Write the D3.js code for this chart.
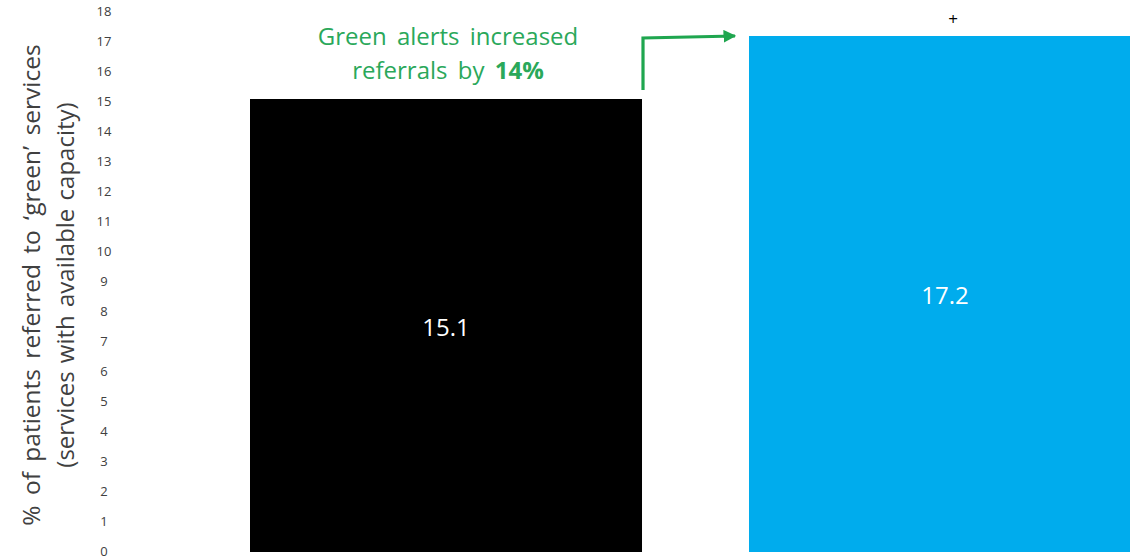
<!DOCTYPE html>
<html><head><meta charset="utf-8">
<script src="https://cdn.jsdelivr.net/npm/d3@7"></script>
<style>
html,body{margin:0;padding:0;background:#fff;overflow:hidden}
text{font-family:"Open Sans",Lato,sans-serif}
</style></head>
<body><svg id="c" width="1130" height="559"></svg>
<script>
const categories = ["Before green alerts", "With green alerts"];
const values = [15.1, 17.2];
const barColors = ["#000000", "#00aced"];
const yTicks = [0,1,2,3,4,5,6,7,8,9,10,11,12,13,14,15,16,17,18];
const yTitle = ["% of patients referred to \u2018green\u2019 services", "(services with available capacity)"];
const noteLine1 = "Green alerts increased";
const noteLine2a = "referrals by ";
const noteLine2b = "14%";
const sigMark = "+";

const svg = d3.select("#c");
const y = d3.scaleLinear().domain([0, 18]).range([552, 12]);
const x = d3.scaleBand().domain(categories).range([250, 1141]).paddingInner(0.2144).paddingOuter(0);

// y axis tick labels (no line)
const ax = svg.append("g").attr("transform", "translate(112,0)")
  .call(d3.axisLeft(y).tickValues(yTicks).tickSize(0).tickPadding(0).tickFormat(d3.format("d")));
ax.select(".domain").remove();
ax.selectAll("text").attr("font-family", "'Open Sans', sans-serif").attr("font-size", 13)
  .attr("fill", "#404040").attr("text-anchor", "middle").attr("dx", -8).attr("dy", "0.3em");

// y title
const tg = svg.append("g").attr("transform", "translate(0,285) rotate(-90)");
tg.append("text").attr("x", 0).attr("y", 40).attr("text-anchor", "middle")
  .attr("font-size", 24.5).attr("word-spacing", 4).attr("fill", "#404040").text(yTitle[0]);
tg.append("text").attr("x", 0).attr("y", 74).attr("text-anchor", "middle")
  .attr("font-size", 24).attr("word-spacing", 2).attr("fill", "#404040").text(yTitle[1]);

// bars
svg.selectAll("rect.bar").data(values).join("rect").attr("class", "bar")
  .attr("x", (d, i) => x(categories[i])).attr("width", x.bandwidth())
  .attr("y", d => y(d)).attr("height", d => y(0) - y(d))
  .attr("fill", (d, i) => barColors[i]);

// value labels
svg.selectAll("text.val").data(values).join("text").attr("class", "val")
  .attr("x", (d, i) => x(categories[i]) + x.bandwidth() / 2)
  .attr("y", d => (y(d) + y(0)) / 2 + 10)
  .attr("text-anchor", "middle").attr("font-size", 24).attr("fill", "#ffffff")
  .text(d => d.toFixed(1));

// significance mark
svg.append("text").attr("x", x(categories[1]) + x.bandwidth() / 2 + 8).attr("y", y(values[1]) - 11)
  .attr("text-anchor", "middle").attr("font-size", 17).attr("fill", "#000").text(sigMark);

// annotation
const green = "#2aa85a";
svg.append("text").attr("x", 448).attr("y", 45).attr("text-anchor", "middle")
  .attr("font-size", 24).attr("word-spacing", 4).attr("fill", green).text(noteLine1);
const t2 = svg.append("text").attr("x", 448).attr("y", 79).attr("text-anchor", "middle")
  .attr("font-size", 24).attr("word-spacing", 4).attr("fill", green);
t2.append("tspan").text(noteLine2a);
t2.append("tspan").attr("font-weight", "bold").text(noteLine2b);

// arrow
const defs = svg.append("defs");
defs.append("marker").attr("id", "ah").attr("viewBox", "0 0 10 10").attr("refX", 9).attr("refY", 5)
  .attr("markerWidth", 4).attr("markerHeight", 4).attr("orient", "auto")
  .append("path").attr("d", "M0,0 L10,5 L0,10 z").attr("fill", "#1fa64f");
const ax0 = x(categories[0]) + x.bandwidth() + 1;
svg.append("path")
  .attr("d", d3.line()([[ax0, y(values[0]) - 9], [ax0, y(values[1]) + 2], [x(categories[1]) - 14, y(values[1])]]))
  .attr("fill", "none").attr("stroke", "#1fa64f").attr("stroke-width", 3.2).attr("marker-end", "url(#ah)");
</script></body></html>
